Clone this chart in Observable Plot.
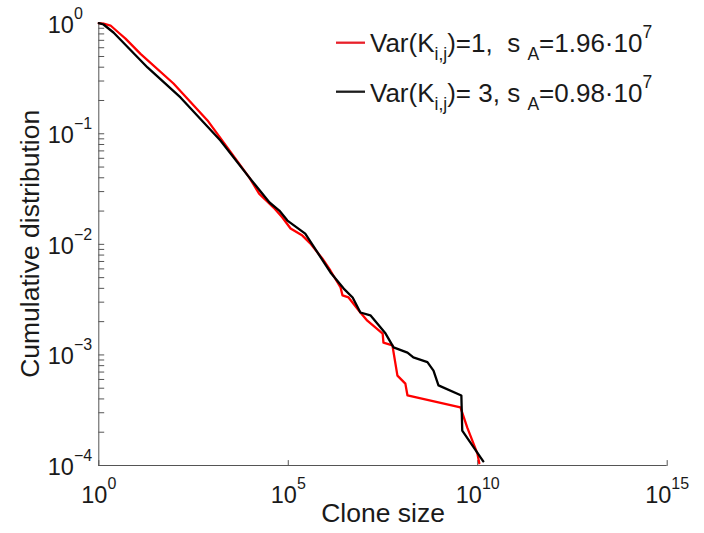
<!DOCTYPE html>
<html><head><meta charset="utf-8">
<script src="https://cdn.jsdelivr.net/npm/d3@7"></script>
<script src="https://cdn.jsdelivr.net/npm/@observablehq/plot@0.6"></script>
<style>html,body{margin:0;padding:0;background:#fff}svg{display:block}</style>
</head><body><div id="chart"></div>
<script>
// ---- data ----
const redX = [1, 1.41, 2.04, 3.3, 5.06, 12.6, 93.5, 738, 9.3e3, 1.7e4, 4.1e4, 7.0e4, 1.15e5, 2.36e5, 3.8e5, 7.9e5, 1.29e6, 2.4e6, 2.7e6, 3.9e6, 8.0e6, 1.22e7, 3.1e7, 3.25e7, 5.6e7, 7.6e7, 1.23e8, 1.4e8, 3.5e9, 5.3e9, 9.8e9, 1.1e10];
const redY = [1, 0.984, 0.953, 0.824, 0.726, 0.528, 0.285, 0.132, 0.0403, 0.0288, 0.0215, 0.0175, 0.0139, 0.0120, 0.0102, 0.00745, 0.0058, 0.00407, 0.00345, 0.00331, 0.00242, 0.00204, 0.00156, 0.00129, 0.00122, 0.00065, 0.00055, 0.00043, 0.000335, 0.00022, 0.000128, 0.000105];
const blackX = [1, 1.33, 2.44, 19.3, 143, 1.62e3, 9.3e3, 3.2e4, 5.8e4, 9.5e4, 2.8e5, 5.9e5, 1.3e6, 2.9e6, 5.0e6, 8.0e6, 1.47e7, 2.7e7, 3.7e7, 6.0e7, 1.4e8, 2.0e8, 4.7e8, 6.8e8, 9.2e8, 3.7e9, 3.9e9, 1.4e10];
const blackY = [1, 0.973, 0.824, 0.398, 0.213, 0.087, 0.0403, 0.0239, 0.0202, 0.0164, 0.0125, 0.00845, 0.00557, 0.00398, 0.00331, 0.00242, 0.00228, 0.00178, 0.00156, 0.00117, 0.00105, 0.00095, 0.00086, 0.00072, 0.00053, 0.00043, 0.000207, 0.000109];

const xMajor = [1, 1e5, 1e10, 1e15];
const xExp = ["0", "5", "10", "15"];
const yMajor = [1e-4, 1e-3, 1e-2, 1e-1, 1];
const yExp = ["\u22124", "\u22123", "\u22122", "\u22121", "0"];
const yMinorMult = [2, 3, 4, 5, 6, 7, 8, 9];

const seriesNames = ["red", "black"];
const seriesColors = ["#e8202a", "#1c1c1c"];
const xTitle = "Clone size";
const yTitle = "Cumulative distribution";

// ---- build ----
const rows = [
  ...redX.map((x, i) => ({x, y: redY[i], s: "red"})),
  ...blackX.map((x, i) => ({x, y: blackY[i], s: "black"}))
];
const yMinor = yMajor.slice(0, -1).flatMap(m => yMinorMult.map(k => m * k));
const yTicksAll = [...yMajor, ...yMinor];
const tickLine = {draw(ctx, l) { ctx.moveTo(0, 0); ctx.lineTo(0, -l); }};
const axisColor = "#555";
const textColor = "#1a1a1a";
const FONT = "'Liberation Sans', Arial, Helvetica, sans-serif";

const chart = Plot.plot({
  width: 704, height: 533,
  marginLeft: 98.3, marginRight: 37.3, marginTop: 22.7, marginBottom: 68,
  style: {fontFamily: FONT, fontSize: "22px", background: "#fff", color: textColor},
  x: {type: "log", domain: [1, 1e15], axis: null},
  y: {type: "log", domain: [1e-4, 1], axis: null},
  color: {domain: seriesNames, range: seriesColors},
  marks: [
    Plot.ruleY([1e-4], {stroke: axisColor, strokeWidth: 1}),
    Plot.ruleX([1], {stroke: axisColor, strokeWidth: 1}),
    Plot.vector(xMajor, {x: d => d, frameAnchor: "bottom", length: 5, rotate: 0, anchor: "start", shape: tickLine, stroke: axisColor, strokeWidth: 1}),
    Plot.vector(yTicksAll, {y: d => d, frameAnchor: "left", length: 5, rotate: 90, anchor: "start", shape: tickLine, stroke: axisColor, strokeWidth: 1}),
    Plot.line(rows, {x: "x", y: "y", z: "s", stroke: "s", strokeWidth: 2.3, strokeLinejoin: "round"}),
    Plot.text(xMajor, {x: d => d, frameAnchor: "bottom", text: (d, i) => "10|" + xExp[i], lineAnchor: "bottom", dy: 37, textAnchor: "middle", fontSize: 23.5, fill: textColor}),
    Plot.text(yMajor, {y: d => d, frameAnchor: "left", text: (d, i) => "10|" + yExp[i], lineAnchor: "bottom", dy: 9.5, dx: -51, textAnchor: "start", fontSize: 23.5, fill: textColor}),
    Plot.text([xTitle], {frameAnchor: "bottom", text: d => d, lineAnchor: "bottom", dy: 56, fontSize: 26.5, fill: textColor})
  ]
});
document.getElementById("chart").appendChild(chart);

// superscripts on tick labels
const NS = "http://www.w3.org/2000/svg";
chart.querySelectorAll("text").forEach(t => {
  const s = t.textContent;
  if (s.includes("|")) {
    const [base, exp] = s.split("|");
    t.textContent = base;
    const sp = document.createElementNS(NS, "tspan");
    sp.setAttribute("dy", "-14");
    sp.setAttribute("font-size", "16");
    sp.textContent = exp;
    t.appendChild(sp);
  }
});

// y axis title (rotated)
const yt = document.createElementNS(NS, "text");
yt.setAttribute("transform", "translate(39,243.8) rotate(-90)");
yt.setAttribute("text-anchor", "middle");
yt.setAttribute("font-family", FONT);
yt.setAttribute("font-size", 26.5);
yt.setAttribute("fill", textColor);
yt.textContent = yTitle;
chart.appendChild(yt);

// legend
const legendItems = [
  {color: seriesColors[0], ly: 42.7, by: 51.7, parts: [["Var(K", 0], ["i,j", 1], [")=1,  s ", 0], ["A", 1], ["=1.96\u00b710", 0], ["7", 2]]},
  {color: seriesColors[1], ly: 91.7, by: 101.7, parts: [["Var(K", 0], ["i,j", 1], [")= 3, s ", 0], ["A", 1], ["=0.98\u00b710", 0], ["7", 2]]}
];
const lg = document.createElementNS(NS, "g");
lg.setAttribute("font-family", FONT);
lg.setAttribute("fill", textColor);
lg.setAttribute("text-anchor", "start");
legendItems.forEach(it => {
  const ln = document.createElementNS(NS, "line");
  ln.setAttribute("x1", 336); ln.setAttribute("x2", 365);
  ln.setAttribute("y1", it.ly); ln.setAttribute("y2", it.ly);
  ln.setAttribute("stroke", it.color); ln.setAttribute("stroke-width", 2.3);
  lg.appendChild(ln);
  const tx = document.createElementNS(NS, "text");
  tx.setAttribute("x", 370); tx.setAttribute("y", it.by);
  tx.setAttribute("font-size", 26);
  tx.setAttribute("text-anchor", "start");
  tx.setAttribute("style", "white-space:pre");
  let cur = 0;
  it.parts.forEach(([str, kind]) => {
    const sp = document.createElementNS(NS, "tspan");
    const target = kind === 1 ? 8.5 : kind === 2 ? -14 : 0;
    sp.setAttribute("dy", target - cur);
    cur = target;
    if (kind) sp.setAttribute("font-size", 17.5);
    sp.textContent = str;
    tx.appendChild(sp);
  });
  lg.appendChild(tx);
});
chart.appendChild(lg);
</script>
</body></html>
